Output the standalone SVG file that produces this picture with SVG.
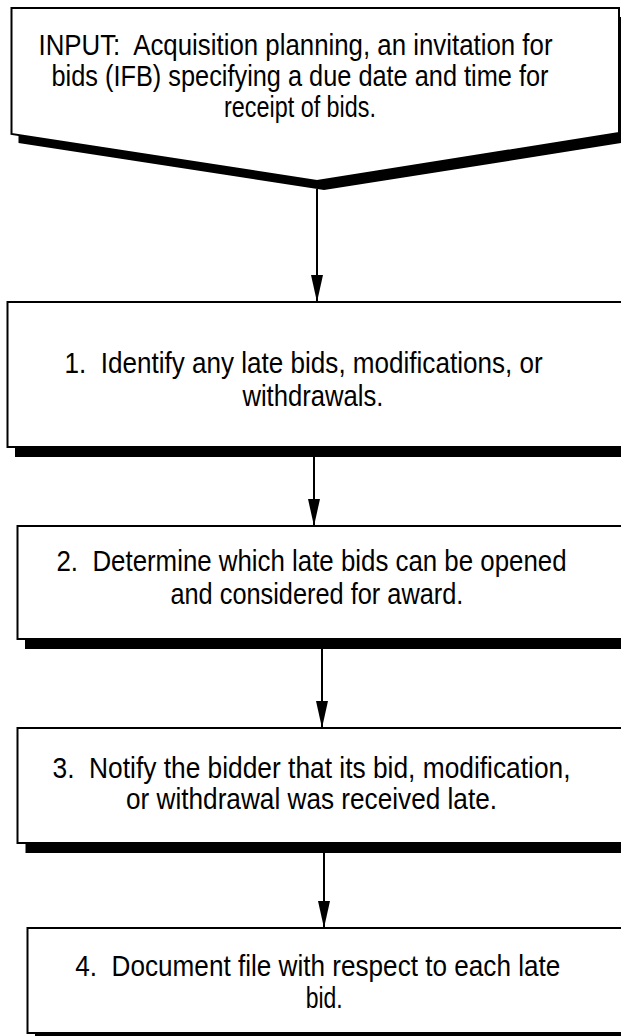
<svg xmlns="http://www.w3.org/2000/svg" width="621" height="1036" viewBox="0 0 621 1036">
<defs>
<style>
.box{fill:#fff;stroke:#000;stroke-width:2}
.shadow{fill:#000;stroke:none}
.t{font-family:"Liberation Sans Narrow","Liberation Sans",Arial,Helvetica,sans-serif;font-size:29px;fill:#000;text-anchor:middle;white-space:pre}
.conn{stroke:#000;stroke-width:2;fill:none}
</style>
<marker id="ah" viewBox="0 0 27 12" refX="27" refY="6" markerWidth="27" markerHeight="12" markerUnits="userSpaceOnUse" orient="auto">
<path d="M0,0 L27,6 L0,12 Z" fill="#000"/>
</marker>
</defs>
<rect width="621" height="1036" fill="#fff"/>
<g id="connectors">
<line class="conn" x1="317" y1="189" x2="317" y2="302" marker-end="url(#ah)"/>
<line class="conn" x1="314" y1="456" x2="314" y2="526" marker-end="url(#ah)"/>
<line class="conn" x1="322" y1="648" x2="322" y2="728" marker-end="url(#ah)"/>
<line class="conn" x1="324" y1="852" x2="324" y2="928" marker-end="url(#ah)"/>
</g>
<g id="input">
<polygon class="shadow" points="18.5,17 628,17 628,142 324,190 18.5,143"/>
<polygon class="box" points="11.5,8 619,8 619,133 317,181 11.5,134"/>
<text class="t" x="295.5" y="55" textLength="514" lengthAdjust="spacingAndGlyphs">INPUT:  Acquisition planning, an invitation for</text>
<text class="t" x="300" y="86" textLength="497" lengthAdjust="spacingAndGlyphs">bids (IFB) specifying a due date and time for</text>
<text class="t" x="300" y="117" textLength="152" lengthAdjust="spacingAndGlyphs">receipt of bids.</text>
</g>
<g id="step1">
<rect class="shadow" x="15" y="311" width="620" height="146"/>
<rect class="box" x="7.5" y="302" width="620" height="145"/>
<text class="t" x="303.6" y="373" textLength="478" lengthAdjust="spacingAndGlyphs">1.  Identify any late bids, modifications, or</text>
<text class="t" x="312.9" y="406" textLength="141" lengthAdjust="spacingAndGlyphs">withdrawals.</text>
</g>
<g id="step2">
<rect class="shadow" x="25" y="535" width="610" height="114"/>
<rect class="box" x="17.5" y="526" width="610" height="113"/>
<text class="t" x="311.5" y="571" textLength="510" lengthAdjust="spacingAndGlyphs">2.  Determine which late bids can be opened</text>
<text class="t" x="316.9" y="604" textLength="293" lengthAdjust="spacingAndGlyphs">and considered for award.</text>
</g>
<g id="step3">
<rect class="shadow" x="25.5" y="737" width="610" height="116"/>
<rect class="box" x="17.5" y="728" width="610" height="115"/>
<text class="t" x="311.5" y="777.5" textLength="518" lengthAdjust="spacingAndGlyphs">3.  Notify the bidder that its bid, modification,</text>
<text class="t" x="311.5" y="809" textLength="371" lengthAdjust="spacingAndGlyphs">or withdrawal was received late.</text>
</g>
<g id="step4">
<rect class="shadow" x="35" y="937" width="600" height="106"/>
<rect class="box" x="27.5" y="928" width="600" height="105"/>
<text class="t" x="317.8" y="976" textLength="485" lengthAdjust="spacingAndGlyphs">4.  Document file with respect to each late</text>
<text class="t" x="324.2" y="1008" textLength="37" lengthAdjust="spacingAndGlyphs">bid.</text>
</g>
</svg>
